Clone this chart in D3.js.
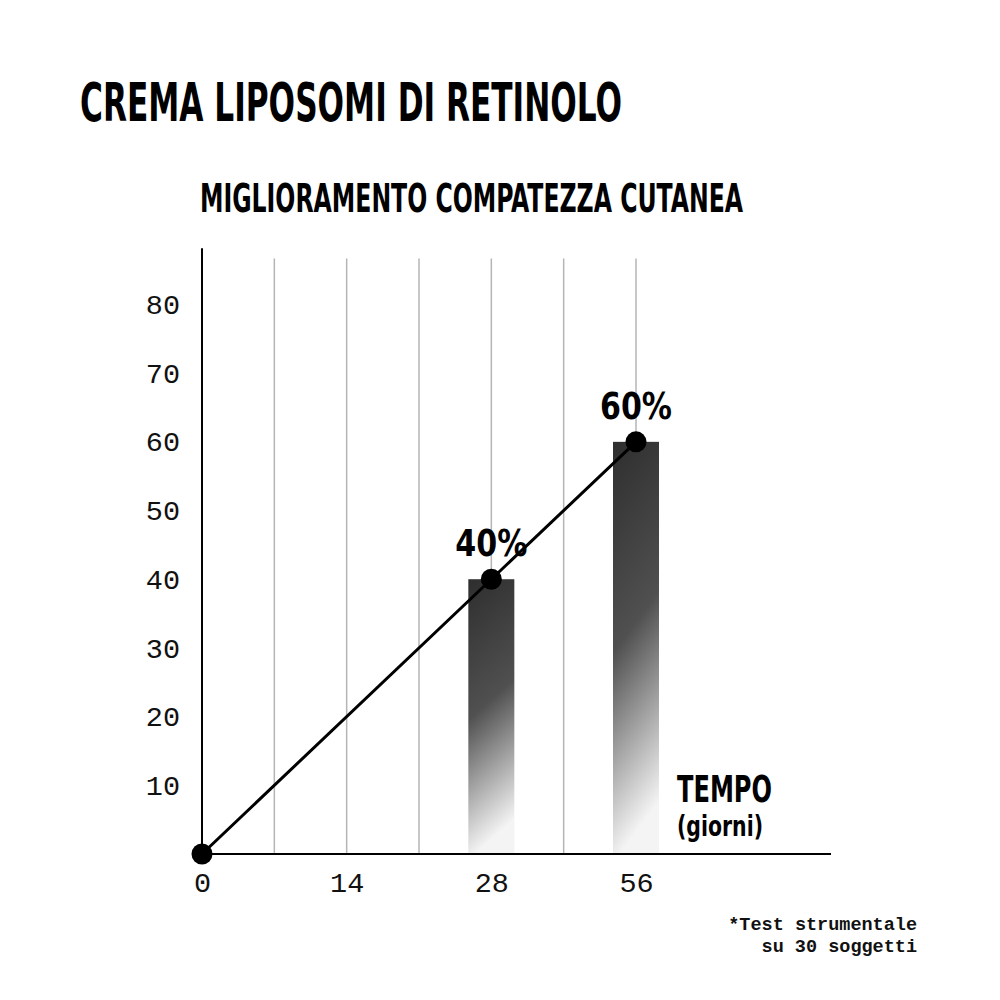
<!DOCTYPE html>
<html>
<head>
<meta charset="utf-8">
<script src="https://cdn.jsdelivr.net/npm/d3@7"></script>
<style>
  body { margin: 0; background: #fff; }
  .cond { font-family: "Liberation Sans Narrow", "DejaVu Sans Condensed", "DejaVu Sans", sans-serif; font-weight: bold; font-stretch: condensed; }
  .mono { font-family: "Liberation Mono", "DejaVu Sans Mono", monospace; }
</style>
</head>
<body>
<svg width="1000" height="1000"></svg>
<script>
// grid slots along the time axis (days)
const slots = ['0', '7', '14', '21', '28', '42', '56'];
const xTicks = ['0', '14', '28', '56'];
const yTicks = [10, 20, 30, 40, 50, 60, 70, 80];
// line series: improvement (%) per day
const lineDays = ['0', '28', '56'];
const lineValues = [0, 40, 60];
// bars
const barDays = ['28', '56'];
const barValues = [40, 60];

const svg = d3.select('svg');

const x = d3.scalePoint().domain(slots).range([202, 636]);
const y = d3.scaleLinear().domain([0, 88]).range([854, 249.5]);

// titles
svg.append('text').attr('class', 'cond')
    .attr('x', 80).attr('y', 121)
    .attr('font-size', 53)
    .attr('textLength', 542).attr('lengthAdjust', 'spacingAndGlyphs')
    .text('CREMA LIPOSOMI DI RETINOLO');

svg.append('text').attr('class', 'cond')
    .attr('x', 200).attr('y', 212)
    .attr('font-size', 39)
    .attr('textLength', 543).attr('lengthAdjust', 'spacingAndGlyphs')
    .text('MIGLIORAMENTO COMPATEZZA CUTANEA');

// gradient for bars
const grad = svg.append('defs').append('linearGradient')
    .attr('id', 'barGrad')
    .attr('x1', 0).attr('y1', 0).attr('x2', 0.15).attr('y2', 1);
grad.append('stop').attr('offset', '0%').attr('stop-color', '#2e2e2e');
grad.append('stop').attr('offset', '50%').attr('stop-color', '#505050');
grad.append('stop').attr('offset', '100%').attr('stop-color', '#f4f4f4');

// vertical grid lines
svg.append('g')
    .selectAll('line')
    .data(slots.slice(1))
    .join('line')
    .attr('x1', d => x(d)).attr('x2', d => x(d))
    .attr('y1', y(86.7)).attr('y2', y(0))
    .attr('stroke', '#b5b5b5')
    .attr('stroke-width', 1.5);

// bars
const barW = 46;
svg.append('g')
    .selectAll('rect')
    .data(barDays)
    .join('rect')
    .attr('x', d => x(d) - barW / 2)
    .attr('y', (d, i) => y(barValues[i]))
    .attr('width', barW)
    .attr('height', (d, i) => y(0) - y(barValues[i]))
    .attr('fill', 'url(#barGrad)');

// axes
const yAxis = svg.append('g')
    .attr('transform', `translate(${x('0')},0)`)
    .call(d3.axisLeft(y).tickValues(yTicks).tickSize(0).tickPadding(22));
yAxis.select('.domain').remove();
yAxis.append('line')
    .attr('x1', 0).attr('x2', 0)
    .attr('y1', y(88.2)).attr('y2', y(0))
    .attr('stroke', '#000').attr('stroke-width', 2);
yAxis.selectAll('text')
    .attr('class', 'mono')
    .attr('font-size', 28.5)
    .attr('fill', '#111');

const xAxis = svg.append('g')
    .attr('transform', `translate(0,${y(0)})`)
    .call(d3.axisBottom(x).tickValues(xTicks).tickSize(0).tickPadding(18));
xAxis.select('.domain').remove();
xAxis.append('line')
    .attr('x1', x('0')).attr('x2', 831)
    .attr('y1', 0).attr('y2', 0)
    .attr('stroke', '#000').attr('stroke-width', 2);
xAxis.selectAll('text')
    .attr('class', 'mono')
    .attr('font-size', 28.5)
    .attr('fill', '#111');

// line + points
const linePts = lineDays.map((d, i) => [x(d), y(lineValues[i])]);
svg.append('path')
    .attr('d', d3.line()(linePts))
    .attr('fill', 'none')
    .attr('stroke', '#000')
    .attr('stroke-width', 3);

svg.append('g')
    .selectAll('circle')
    .data(linePts)
    .join('circle')
    .attr('cx', d => d[0]).attr('cy', d => d[1])
    .attr('r', 10.5)
    .attr('fill', '#000');

// value labels
svg.append('g')
    .selectAll('text')
    .data(barDays)
    .join('text')
    .attr('class', 'cond')
    .attr('x', d => x(d))
    .attr('y', (d, i) => y(barValues[i]) - 23)
    .attr('text-anchor', 'middle')
    .attr('font-size', 38)
    .attr('textLength', 72).attr('lengthAdjust', 'spacingAndGlyphs')
    .text((d, i) => `${barValues[i]}%`);

// axis title
svg.append('text').attr('class', 'cond')
    .attr('x', 677).attr('y', 802)
    .attr('font-size', 37)
    .attr('textLength', 95).attr('lengthAdjust', 'spacingAndGlyphs')
    .text('TEMPO');
svg.append('text').attr('class', 'cond')
    .attr('x', 677).attr('y', 836)
    .attr('font-size', 29)
    .attr('textLength', 86).attr('lengthAdjust', 'spacingAndGlyphs')
    .text('(giorni)');

// footnote
const note = svg.append('text').attr('class', 'mono')
    .attr('text-anchor', 'end')
    .attr('font-size', 18.5)
    .attr('font-weight', 'bold')
    .attr('fill', '#111');
note.append('tspan').attr('x', 917).attr('y', 930).text('*Test strumentale');
note.append('tspan').attr('x', 917).attr('y', 952).text('su 30 soggetti');
</script>
</body>
</html>
